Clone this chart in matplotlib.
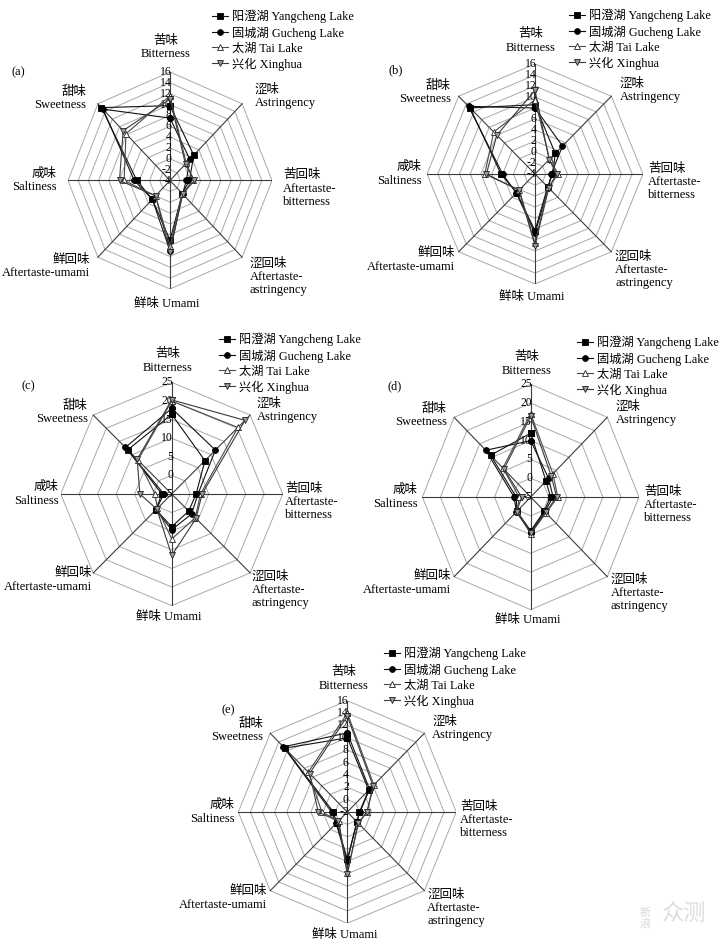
import numpy as np
import matplotlib
matplotlib.use('Agg')
import matplotlib.pyplot as plt

plt.rcParams['font.family'] = ['Liberation Serif', 'Noto Sans CJK SC']

W, H = 720, 946

# 8 attributes, clockwise from the top
attr_labels = ['苦味\nBitterness', '涩味\nAstringency', '苦回味\nAftertaste-\nbitterness',
               '涩回味\nAftertaste-\nastringency', '鲜味 Umami', '鲜回味\nAftertaste-umami',
               '咸味\nSaltiness', '甜味\nSweetness']
origins = ['阳澄湖 Yangcheng Lake', '固城湖 Gucheng Lake', '太湖 Tai Lake', '兴化 Xinghua']

# (a)
a_yangcheng = [9.8, 2.6, -0.2, -0.6, 7.0, 0.9, 2.5, 15.0]
a_gucheng = [7.5, 1.5, -0.8, -0.5, 9.0, 0.9, 3.0, 14.6]
a_tai = [11.6, 0.5, 0.6, -0.6, 8.0, 0.0, 5.0, 8.2]
a_xinghua = [11.0, 0.3, 0.8, -0.5, 9.2, 0.0, 5.9, 9.0]
# (b)
b_yangcheng = [8.6, 1.3, -0.7, -0.7, 6.3, 0.8, 2.3, 13.0]
b_gucheng = [8.0, 3.2, -1.0, -0.5, 6.8, 0.9, 2.0, 13.4]
b_tai = [9.5, -0.2, 0.3, -0.6, 8.6, 0.1, 5.3, 6.8]
b_xinghua = [11.2, -0.3, 0.0, -0.4, 9.0, 0.2, 5.0, 6.0]
# (c)
c_yangcheng = [16.4, 7.7, 1.6, 1.5, 3.8, 1.0, -2.3, 11.8]
c_gucheng = [18.0, 11.7, 2.1, 2.6, 4.6, 1.1, -2.9, 12.7]
c_tai = [20.0, 20.3, 2.8, 4.0, 7.1, 0.5, -0.5, 7.9]
c_xinghua = [20.3, 23.0, 3.2, 4.3, 11.5, 0.7, 3.6, 8.2]
# (d)
d_yangcheng = [12.0, 1.0, 0.5, 0.3, 4.0, 0.4, -1.0, 10.7]
d_gucheng = [10.0, 2.0, 1.2, 0.5, 4.5, 0.6, -0.4, 12.6]
d_tai = [17.2, 3.7, 2.5, 1.0, 4.8, 0.3, -1.8, 5.9]
d_xinghua = [16.5, 3.0, 2.2, 0.8, 4.6, 0.5, -2.5, 5.5]
# (e)
e_yangcheng = [10.0, 3.0, 0.0, 0.3, 5.6, 0.5, 0.3, 12.6]
e_gucheng = [10.8, 3.2, 0.1, 0.2, 6.0, 0.6, 0.6, 12.9]
e_tai = [14.0, 4.2, 1.2, 0.6, 7.8, 0.0, 2.2, 7.1]
e_xinghua = [13.5, 4.0, 1.3, 0.5, 8.1, 0.1, 2.8, 6.8]

styles = [
    dict(marker='s', ms=3.8, mfc='black', mec='black', color='#111111'),
    dict(marker='o', ms=4.2, mfc='black', mec='black', color='#111111'),
    dict(marker='^', ms=4.6, mfc='white', mec='#222222', color='#4a4a4a'),
    dict(marker='v', ms=4.6, mfc='#999999', mec='#222222', color='#3a3a3a'),
]

# label offsets (px from centre) and alignment
label_pos = [(-4, -133, 'center'), (85, -84, 'left'), (113, 8, 'left'), (80, 96, 'left'),
             (-3, 123, 'center'), (-80, 86, 'right'), (-113, 0, 'right'), (-84, -82, 'right')]

fig = plt.figure(figsize=(7.2, 9.46), dpi=100)


def fx(x):
    return x / W


def fy(y):
    return 1 - y / H


def draw_panel(box, lo, hi, step, series, letter, letter_xy, legend_xy):
    cx, cy, rx, ry = box
    ax = fig.add_axes([fx(cx - rx), fy(cy + ry), 2 * rx / W, 2 * ry / H])
    R = hi - lo
    ax.set_xlim(-R, R)
    ax.set_ylim(-R, R)
    ax.axis('off')
    ang = np.arange(8) * np.pi / 4
    sx, sy = np.sin(ang), np.cos(ang)

    # octagon rings and spokes
    for lev in np.arange(lo + step, hi + step / 2, step):
        r = lev - lo
        ax.plot(np.append(r * sx, r * sx[0]), np.append(r * sy, r * sy[0]),
                color='#a8a8a8', lw=0.7, zorder=1)
    for i in range(8):
        ax.plot([0, R * sx[i]], [0, R * sy[i]], color='#3c3c3c', lw=0.8, zorder=2)

    for lev in np.arange(lo, hi + step / 2, step):
        ax.annotate('%d' % lev, xy=(0, lev - lo), xytext=(1.0, 0), textcoords='offset points',
                    ha='right', va='center', fontsize=8.4, zorder=3)

    handles = []
    for vals, st in zip(series, styles):
        r = np.array(vals) - lo
        x = np.append(r * sx, r[0] * sx[0])
        y = np.append(r * sy, r[0] * sy[0])
        ln, = ax.plot(x, y, lw=0.8, mew=0.6, zorder=4, clip_on=False, **st)
        handles.append(ln)

    for lab, (dx, dy, ha) in zip(attr_labels, label_pos):
        fig.text(fx(cx + dx), fy(cy + dy), lab, ha=ha, va='center', multialignment=ha,
                 fontsize=9.0, linespacing=1.12)

    fig.text(fx(letter_xy[0]), fy(letter_xy[1]), letter, ha='center', va='center', fontsize=9.0)

    ax.legend(handles, origins, loc='upper left', bbox_to_anchor=(fx(legend_xy[0]), fy(legend_xy[1])),
              bbox_transform=fig.transFigure, frameon=False, fontsize=8.8, handlelength=1.3,
              handletextpad=0.35, labelspacing=0.24, borderpad=0, borderaxespad=0, numpoints=1)


draw_panel((170, 180.5, 102, 108.5), -4, 16, 2,
           [a_yangcheng, a_gucheng, a_tai, a_xinghua], '(a)', (18, 72), (212, 10))
draw_panel((535, 174, 108, 110), -4, 16, 2,
           [b_yangcheng, b_gucheng, b_tai, b_xinghua], '(b)', (396, 70), (569, 9))
draw_panel((171.7, 494, 111, 111.6), -5, 25, 5,
           [c_yangcheng, c_gucheng, c_tai, c_xinghua], '(c)', (28, 386), (219, 333))
draw_panel((530.7, 497, 108.3, 112.7), -5, 25, 5,
           [d_yangcheng, d_gucheng, d_tai, d_xinghua], '(d)', (395, 386), (577, 336))
draw_panel((347.3, 812, 109, 111.3), -2, 16, 2,
           [e_yangcheng, e_gucheng, e_tai, e_xinghua], '(e)', (228, 710), (384, 647))

# faint watermark in the corner
fig.text(fx(645), fy(918), '新\n浪', ha='center', va='center', fontsize=8,
         color='#d8d8d8', linespacing=1.0)
fig.text(fx(684), fy(915), '众测', ha='center', va='center', fontsize=16,
         color='#dddddd')

fig.savefig('out.png', dpi=100)
